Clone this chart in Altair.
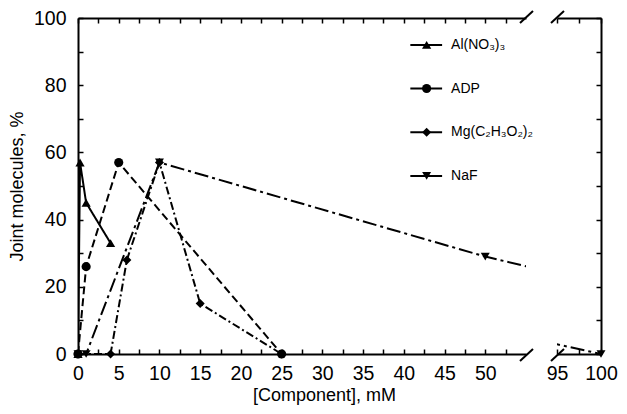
import altair as alt
import pandas as pd

# ---- data ----
series = ["Al(NO₃)₃", "ADP", "Mg(C₂H₃O₂)₂", "NaF"]
al_x = [0, 0.25, 1, 4]
al_y = [0, 57, 45, 33]
adp_x = [0, 1, 5, 25]
adp_y = [0, 26, 57, 0]
mg_x = [0, 4, 6, 10, 15, 25]
mg_y = [0, 0, 28, 57, 15, 0]
naf_x = [0, 1, 10, 50, 100]
naf_y = [0, 0, 57, 29, 0]

xs = [al_x, adp_x, mg_x, naf_x]
ys = [al_y, adp_y, mg_y, naf_y]
rows = []
for s, xx, yy in zip(series, xs, ys):
    for i, (a, b) in enumerate(zip(xx, yy)):
        rows.append({"series": s, "x": a, "y": b, "idx": i})
df = pd.DataFrame(rows)

shapes = ["triangle-up", "circle", "diamond", "triangle-down"]
dashes = [[1, 0], [8, 4], [8, 3, 2, 3], [14, 4, 3, 4]]
sizes = [85, 80, 65, 85]

FONT = "Liberation Sans"
TICK = 5
INWARD = {"expr": str(-TICK)}

left_dom = [0, 55]
right_dom = [95, 100]
PX = 8.15  # pixels per x unit (left)
PXR = 8.8
H = 336

shape_enc = alt.Shape("series:N", scale=alt.Scale(domain=series, range=shapes), legend=None)
size_enc = alt.Size("series:N", scale=alt.Scale(domain=series, range=sizes), legend=None)
dash_enc = alt.StrokeDash("series:N", scale=alt.Scale(domain=series, range=dashes), legend=None)

yscale = alt.Scale(domain=[0, 100], nice=False, zero=False)


def panel(dom, width, xvals, bottom_axis, left_side):
    xscale = alt.Scale(domain=dom, nice=False, zero=False)
    base = alt.Chart(df)
    if left_side:
        yaxis = alt.Axis(values=list(range(0, 101, 10)),
                         labelExpr="datum.value % 20 === 0 ? datum.label : ''",
                         tickSize=INWARD, labelPadding=12 + TICK,
                         title="Joint molecules, %", titlePadding=7)
    else:
        yaxis = alt.Axis(orient="right", values=list(range(0, 101, 10)), labels=False,
                         tickSize=INWARD, title=None)
    lines = base.mark_line(color="black", strokeWidth=2, clip=True).encode(
        x=alt.X("x:Q", scale=xscale, axis=bottom_axis),
        y=alt.Y("y:Q", scale=yscale, axis=yaxis),
        strokeDash=dash_enc,
        detail="series:N",
        order="idx:Q",
    )
    pts = base.transform_filter(
        (alt.datum.x >= dom[0]) & (alt.datum.x <= dom[1])
    ).mark_point(filled=True, color="black", opacity=1).encode(
        x=alt.X("x:Q", scale=xscale, axis=None),
        y=alt.Y("y:Q", scale=yscale, axis=None),
        shape=shape_enc,
        size=size_enc,
    )
    # break marks (slashes) at the broken end of the axis
    px = PX if left_side else PXR
    edge = dom[1] if left_side else dom[0]
    sl = pd.DataFrame({
        "x0": [edge - 6 / px, edge - 6 / px],
        "x1": [edge + 7 / px, edge + 7 / px],
        "y0": [-7 / (H / 100), 100 - 5 / (H / 100)],
        "y1": [5 / (H / 100), 100 + 7 / (H / 100)],
    })
    slashes = alt.Chart(sl).mark_rule(color="black", strokeWidth=2).encode(
        x=alt.X("x0:Q", scale=xscale,
                axis=alt.Axis(orient="top", values=xvals, labels=False,
                              tickSize=INWARD, title=None)),
        x2="x1:Q",
        y=alt.Y("y0:Q", scale=yscale, axis=None),
        y2="y1:Q",
    )
    layers = [lines, pts, slashes]
    if left_side:
        leg = pd.DataFrame({"series": series})
        leg["ly"] = [92 - 13 * i for i in range(len(series))]
        leg["lx0"] = 40.8
        leg["lx1"] = 44.7
        leg["mx"] = 42.8
        leg["tx"] = 45.8
        lb = alt.Chart(leg)
        leg_line = lb.mark_rule(color="black", strokeWidth=2).encode(
            x=alt.X("lx0:Q", scale=xscale, axis=None), x2="lx1:Q",
            y=alt.Y("ly:Q", scale=yscale, axis=None))
        leg_pt = lb.mark_point(filled=True, color="black", opacity=1).encode(
            x=alt.X("mx:Q", scale=xscale, axis=None),
            y=alt.Y("ly:Q", scale=yscale, axis=None),
            shape=shape_enc, size=size_enc)
        leg_txt = lb.mark_text(align="left", baseline="middle", font=FONT,
                               fontSize=14, color="black").encode(
            x=alt.X("tx:Q", scale=xscale, axis=None),
            y=alt.Y("ly:Q", scale=yscale, axis=None),
            text="series:N")
        layers += [leg_line, leg_pt, leg_txt]
    return alt.layer(*layers).resolve_axis(x="independent", y="independent").properties(
        width=width, height=H)


left_vals = [i * 2.5 for i in range(22)]
right_vals = [95, 97.5, 100]
lab5 = "datum.value % 5 === 0 ? format(datum.value, 'd') : ''"

left = panel(left_dom, int(round((left_dom[1] - left_dom[0]) * PX)), left_vals,
             alt.Axis(values=left_vals, labelExpr=lab5, tickSize=INWARD,
                      labelFlush=False, labelPadding=10 + TICK, labelOverlap=False,
                      title="[Component], mM", titleX=246, titlePadding=4),
             True)
right = panel(right_dom, int(round((right_dom[1] - right_dom[0]) * PXR)), right_vals,
              alt.Axis(values=right_vals, labelExpr=lab5, tickSize=INWARD,
                       labelFlush=False, labelPadding=10 + TICK, labelOverlap=False,
                       title=None),
              False)

chart = alt.hconcat(left, right, spacing=31, bounds="flush").properties(
    padding=0
).configure_view(stroke=None).configure_axis(
    domainColor="black", domainWidth=2, tickColor="black", tickWidth=1.5,
    labelColor="black", titleColor="black", labelFont=FONT, titleFont=FONT,
    labelFontSize=19.5, titleFontSize=18, titleFontWeight="normal", grid=False,
)

chart.save("out.html", embed_options={"renderer": "svg", "actions": False})
